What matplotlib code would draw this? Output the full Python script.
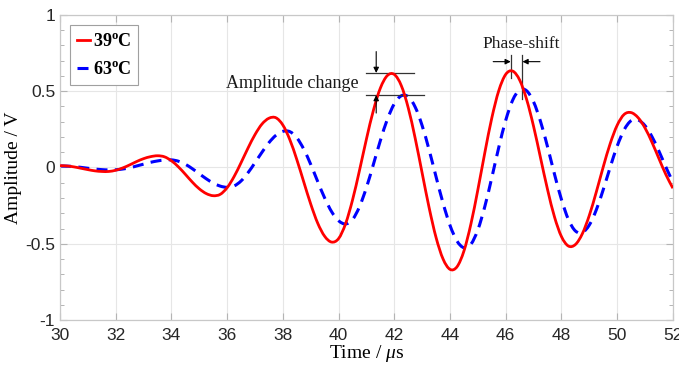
import numpy as np
import matplotlib
matplotlib.use("Agg")
import matplotlib.pyplot as plt
from matplotlib.ticker import MultipleLocator
from matplotlib.path import Path
from matplotlib.patches import PathPatch
from matplotlib.lines import Line2D

plt.rcParams['mathtext.fontset'] = 'custom'
plt.rcParams['mathtext.rm'] = 'Liberation Serif'
plt.rcParams['mathtext.it'] = 'Liberation Serif:italic'
plt.rcParams['mathtext.bf'] = 'Liberation Serif:bold'

# sampling of the waveforms (microseconds)
t_start, t_stop, t_step = 30.0, 52.0, 0.25

amp_39 = [0.012, 0.010, 0.004, -0.005, -0.014, -0.022, -0.026, -0.026,
          -0.018, -0.003, 0.017, 0.039, 0.058, 0.071, 0.077, 0.070,
          0.044, 0.004, -0.045, -0.096, -0.140, -0.171, -0.185, -0.176,
          -0.132, -0.059, 0.032, 0.128, 0.216, 0.285, 0.323, 0.326,
          0.278, 0.182, 0.052, -0.095, -0.240, -0.365, -0.451, -0.489,
          -0.466, -0.369, -0.213, -0.019, 0.187, 0.375, 0.521, 0.603,
          0.610, 0.537, 0.391, 0.191, -0.037, -0.264, -0.460, -0.600,
          -0.668, -0.651, -0.547, -0.370, -0.145, 0.098, 0.325, 0.504,
          0.611, 0.632, 0.573, 0.446, 0.269, 0.062, -0.144, -0.324,
          -0.453, -0.515, -0.505, -0.434, -0.314, -0.161, 0.004, 0.157,
          0.277, 0.348, 0.360, 0.327, 0.259, 0.165, 0.058, -0.047,
          -0.136]

amp_63 = [0.010, 0.009, 0.006, 0.001, -0.005, -0.010, -0.014, -0.016,
          -0.015, -0.010, -0.002, 0.010, 0.022, 0.034, 0.043, 0.049,
          0.050, 0.041, 0.021, -0.008, -0.041, -0.074, -0.102, -0.122,
          -0.130, -0.121, -0.088, -0.034, 0.032, 0.100, 0.163, 0.211,
          0.237, 0.235, 0.195, 0.120, 0.020, -0.092, -0.200, -0.290,
          -0.349, -0.370, -0.341, -0.257, -0.131, 0.021, 0.177, 0.316,
          0.418, 0.470, 0.464, 0.396, 0.274, 0.115, -0.062, -0.234,
          -0.380, -0.482, -0.526, -0.503, -0.408, -0.255, -0.066, 0.132,
          0.310, 0.442, 0.509, 0.503, 0.430, 0.301, 0.136, -0.044,
          -0.210, -0.341, -0.416, -0.426, -0.377, -0.278, -0.145, 0.002,
          0.140, 0.247, 0.307, 0.312, 0.274, 0.202, 0.107, 0.002,
          -0.096]

labels = [r"$\mathbf{39^{o}C}$", r"$\mathbf{63^{o}C}$"]
x_ticks = [30, 32, 34, 36, 38, 40, 42, 44, 46, 48, 50, 52]
y_ticks = [-1, -0.5, 0, 0.5, 1]
y_tick_labels = ["-1", "-0.5", "0", "0.5", "1"]

# annotation anchors (data units)
amp_change_levels = [0.62, 0.475]
amp_change_x = 41.35
phase_peaks = [46.18, 46.6]

t = np.arange(len(amp_39)) * t_step + t_start


def smooth_path(x, y):
    """Smooth Bezier path that passes through every data point."""
    x = np.asarray(x, float)
    y = np.asarray(y, float)
    p = np.column_stack([x, y])
    pe = np.vstack([2 * p[0] - p[1], p, 2 * p[-1] - p[-2]])
    verts = [p[0]]
    codes = [Path.MOVETO]
    for i in range(len(p) - 1):
        p0, p1, p2, p3 = pe[i], pe[i + 1], pe[i + 2], pe[i + 3]
        c1 = p1 + (p2 - p0) / 6.0
        c2 = p2 - (p3 - p1) / 6.0
        verts += [c1, c2, p2]
        codes += [Path.CURVE4] * 3
    return Path(np.array(verts), codes)


fig = plt.figure(figsize=(6.79, 3.70), dpi=100)
ax = fig.add_axes([0.0884, 0.1351, 0.9026, 0.8244])

red_style = dict(color='#ff0000', lw=2.0)
blue_style = dict(color='#0000ff', lw=2.2, dashes=(3.6, 2.4))

ax.add_patch(PathPatch(smooth_path(t, amp_63), fill=False,
                       edgecolor=blue_style['color'], lw=blue_style['lw'],
                       linestyle=(0, blue_style['dashes']),
                       capstyle='butt', zorder=2))
ax.add_patch(PathPatch(smooth_path(t, amp_39), fill=False,
                       edgecolor=red_style['color'], lw=red_style['lw'],
                       zorder=3))

ax.set_xlim(t_start, t_stop)
ax.set_ylim(-1, 1)
ax.set_xticks(x_ticks)
ax.set_yticks(y_ticks)
ax.set_yticklabels(y_tick_labels)
ax.yaxis.set_minor_locator(MultipleLocator(0.1))

gc = '#c8c8c8'
for s in ax.spines.values():
    s.set_color(gc)
    s.set_linewidth(0.9)
ax.grid(True, which='major', color='#e6e6e6', lw=0.8)
ax.set_axisbelow(True)
ax.tick_params(which='both', direction='in', color='#b4b4b4',
               top=True, right=True, labelsize=12.5, labelcolor='#262626')
ax.tick_params(which='major', length=5, width=0.8)
ax.tick_params(which='minor', length=3, width=0.7)
ax.tick_params(axis='x', pad=6)

for lab in ax.get_xticklabels() + ax.get_yticklabels():
    lab.set_family('Liberation Sans')

ax.set_xlabel(r"Time / $\mu$s", family='Liberation Serif', fontsize=14,
              labelpad=0)
ax.set_ylabel("Amplitude / V", family='Liberation Serif', fontsize=14,
              labelpad=2)

handles = [Line2D([], [], **red_style), Line2D([], [], **blue_style)]
leg = ax.legend(handles, labels, loc='upper left',
                bbox_to_anchor=(0.0, 1.0),
                fontsize=13, handlelength=0.7, handletextpad=0.15,
                borderpad=0.4, labelspacing=0.55, fancybox=False,
                borderaxespad=0.55, framealpha=1)
leg.get_frame().set_edgecolor('#a0a0a0')
leg.get_frame().set_linewidth(0.8)

# ---- Amplitude change annotation
lc = 'black'
ax.plot([41.0, 42.7], [amp_change_levels[0]] * 2, color='#333333', lw=0.9)
ax.plot([41.0, 43.05], [amp_change_levels[1]] * 2, color='#333333', lw=0.9)
ax.annotate('', xy=(amp_change_x, amp_change_levels[0]),
            xytext=(amp_change_x, 0.76),
            arrowprops=dict(arrowstyle='-|>', color=lc, lw=0.8,
                            mutation_scale=8, shrinkA=0, shrinkB=0))
ax.annotate('', xy=(amp_change_x, amp_change_levels[1]),
            xytext=(amp_change_x, 0.357),
            arrowprops=dict(arrowstyle='-|>', color=lc, lw=0.8,
                            mutation_scale=8, shrinkA=0, shrinkB=0))
ax.text(38.35, 0.55, "Amplitude change", family='Liberation Serif',
        fontsize=13, color='#1a1a1a', ha='center', va='center')

# ---- Phase-shift annotation
ax.plot([phase_peaks[0]] * 2, [0.59, 0.738], color='#333333', lw=0.9)
ax.plot([phase_peaks[1]] * 2, [0.447, 0.738], color='#333333', lw=0.9)
ax.annotate('', xy=(phase_peaks[0], 0.694), xytext=(45.55, 0.694),
            arrowprops=dict(arrowstyle='-|>', color=lc, lw=0.8,
                            mutation_scale=8, shrinkA=0, shrinkB=0))
ax.annotate('', xy=(phase_peaks[1], 0.694), xytext=(47.23, 0.694),
            arrowprops=dict(arrowstyle='-|>', color=lc, lw=0.8,
                            mutation_scale=8, shrinkA=0, shrinkB=0))
ax.text(46.55, 0.81, "Phase-shift", family='Liberation Serif',
        fontsize=12.5, color='#1a1a1a', ha='center', va='center')

fig.savefig("out.png", dpi=100)
